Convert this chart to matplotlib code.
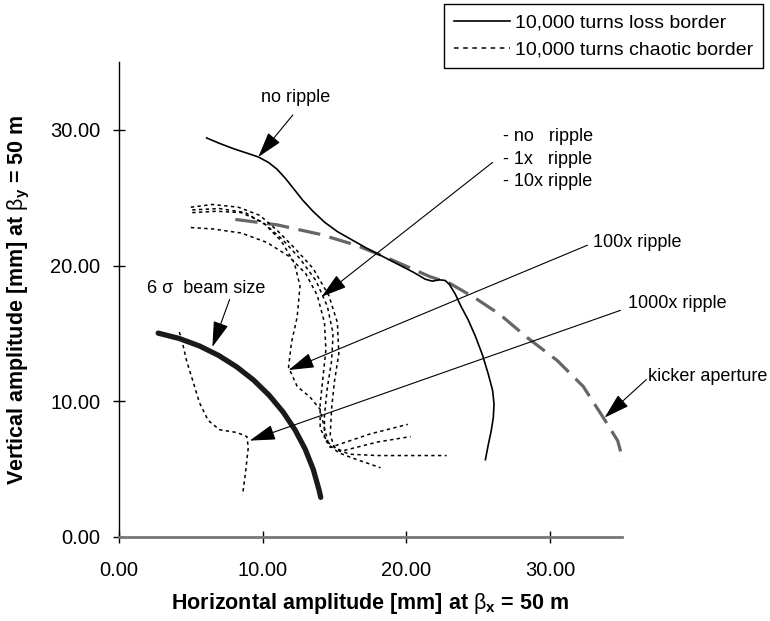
import numpy as np
import matplotlib.pyplot as plt
from matplotlib.lines import Line2D

plt.rcParams['font.family'] = ['Liberation Sans', 'DejaVu Sans']
plt.rcParams['mathtext.fontset'] = 'custom'
plt.rcParams['mathtext.rm'] = 'Liberation Sans'
plt.rcParams['mathtext.it'] = 'Liberation Sans:italic'
plt.rcParams['mathtext.bf'] = 'Liberation Sans:bold'

# 10,000 turns loss border (no ripple)
loss_x = [6.1, 7.0, 8.0, 9.0, 9.7, 10.4, 11.0, 11.6, 12.2, 12.8, 13.5, 14.3, 15.2, 16.2, 17.2, 18.3,
          19.4, 20.5, 21.3, 21.8, 22.3, 22.7, 23.0, 23.4, 23.8, 24.3, 24.8, 25.3, 25.7, 26.0, 26.1,
          26.05, 25.9, 25.7, 25.5]
loss_y = [29.4, 29.0, 28.6, 28.25, 28.0, 27.6, 27.1, 26.4, 25.6, 24.8, 24.0, 23.2, 22.5, 21.9, 21.3, 20.7,
          20.1, 19.5, 19.0, 18.85, 18.95, 18.9, 18.6, 17.9, 17.0, 16.0, 14.8, 13.4, 12.0, 10.8, 9.8,
          8.8, 7.8, 6.8, 5.7]

# chaotic borders
no_x = [5.0, 6.5, 8.3, 9.8, 11.0, 12.3, 13.5, 14.6, 15.2, 15.3, 15.0, 14.8, 14.7, 15.0, 16.0, 18.0, 20.0, 22.8]
no_y = [24.3, 24.5, 24.3, 23.7, 22.6, 21.2, 19.8, 17.8, 15.8, 13.5, 11.5, 9.5, 7.5, 6.6, 6.1, 6.0, 6.0, 6.0]
r1_x = [5.1, 6.8, 8.5, 10.0, 11.4, 12.6, 13.7, 14.5, 14.9, 14.8, 14.5, 14.3, 14.3, 14.7, 17.5, 20.1]
r1_y = [23.9, 24.0, 23.9, 23.2, 21.9, 20.5, 18.9, 17.0, 15.0, 13.0, 11.0, 9.0, 7.3, 6.6, 7.6, 8.3]
r10_x = [5.0, 6.5, 8.5, 10.3, 11.8, 13.0, 13.8, 14.3, 14.4, 14.2, 14.0, 14.0, 14.5, 15.4, 18.0, 20.3]
r10_y = [22.8, 22.7, 22.4, 21.7, 20.7, 19.4, 17.8, 15.8, 13.8, 11.8, 9.8, 8.0, 7.0, 6.3, 7.0, 7.4]
r100_x = [5.1, 7.0, 8.8, 10.2, 11.3, 12.2, 12.6, 12.4, 12.0, 11.8, 12.4, 13.3, 14.0, 14.3, 14.6, 15.3, 16.3, 18.2]
r100_y = [24.1, 24.2, 23.9, 23.0, 21.8, 20.2, 18.5, 16.2, 14.3, 12.5, 11.1, 10.3, 9.4, 8.0, 6.8, 6.2, 5.8, 5.1]
r1000_x = [4.2, 4.4, 4.7, 5.2, 5.6, 6.2, 7.0, 8.2, 8.9, 9.0, 8.8, 8.6]
r1000_y = [15.1, 14.4, 13.0, 11.3, 9.9, 8.6, 7.9, 7.7, 7.4, 6.6, 4.7, 3.1]

# 6 sigma beam size
beam_x = [2.73, 4.18, 5.59, 6.93, 8.20, 9.38, 10.46, 11.42, 12.26, 12.96, 13.52, 13.93, 14.04]
beam_y = [15.02, 14.63, 14.08, 13.38, 12.53, 11.55, 10.43, 9.21, 7.88, 6.47, 4.98, 3.44, 2.92]

# kicker aperture
kick_x = [8.1, 11.0, 14.0, 16.5, 18.6, 21.6, 23.0, 24.8, 26.5, 28.4, 30.5, 32.3, 33.7, 34.7, 35.2]
kick_y = [23.4, 23.0, 22.3, 21.5, 20.6, 19.2, 18.7, 17.6, 16.4, 14.7, 13.0, 11.1, 8.8, 7.1, 5.2]

ticks = [0, 10, 20, 30]
tick_labels = ['0.00', '10.00', '20.00', '30.00']

fig = plt.figure(figsize=(7.7, 6.21), dpi=100)
ax = fig.add_axes([0.1545, 0.1353, 0.6532, 0.7649])

dot = (0, (2.2, 2.2))
ax.plot(kick_x, kick_y, color='#666666', lw=2.3, dashes=(7, 3))
ax.plot(loss_x, loss_y, color='k', lw=1.2)
for xs, ys in [(no_x, no_y), (r1_x, r1_y), (r10_x, r10_y), (r100_x, r100_y), (r1000_x, r1000_y)]:
    ax.plot(xs, ys, color='k', lw=1.1, linestyle=dot)
ax.plot(beam_x, beam_y, color='#1a1a1a', lw=3.8, solid_capstyle='round')

ax.set_xlim(0, 35)
ax.set_ylim(0, 35)
ax.set_xticks(ticks)
ax.set_xticklabels(tick_labels)
ax.set_yticks(ticks)
ax.set_yticklabels(tick_labels)
ax.spines['top'].set_visible(False)
ax.spines['right'].set_visible(False)
ax.spines['bottom'].set_color('#777777')
ax.spines['bottom'].set_linewidth(2)
ax.spines['left'].set_linewidth(1)
ax.tick_params(axis='both', direction='inout', length=9, width=1, labelsize=14.5)
ax.tick_params(axis='x', pad=13)
ax.tick_params(axis='y', pad=9)

ax.set_xlabel(r'Horizontal amplitude [mm] at $\mathrm{\beta}_\mathbf{x}$ = 50 m', fontsize=15.5, fontweight='bold')
ax.set_ylabel(r'Vertical amplitude [mm] at $\mathrm{\beta}_\mathbf{y}$ = 50 m', fontsize=15.5, fontweight='bold')
ax.xaxis.set_label_coords(0.5, -0.114)
ax.yaxis.set_label_coords(-0.172, 0.5)

arrow = dict(arrowstyle='-|>,head_length=0.8,head_width=0.24', color='k', lw=0.8,
             mutation_scale=20, shrinkA=0, shrinkB=0)

ax.text(12.3, 32.4, 'no ripple', fontsize=13, ha='center', va='center')
ax.annotate('', xy=(9.7, 28.0), xytext=(12.1, 31.1), arrowprops=arrow)

ax.text(1.95, 18.3, '6 σ  beam size', fontsize=13, ha='left', va='center')
ax.annotate('', xy=(6.5, 14.0), xytext=(7.7, 17.5), arrowprops=arrow)

ax.text(26.7, 29.5, '- no   ripple', fontsize=13, ha='left', va='center')
ax.text(26.7, 27.8, '- 1x   ripple', fontsize=13, ha='left', va='center')
ax.text(26.7, 26.2, '- 10x ripple', fontsize=13, ha='left', va='center')
ax.annotate('', xy=(14.1, 17.7), xytext=(26.0, 27.6), arrowprops=arrow)

ax.text(33.0, 21.7, '100x ripple', fontsize=13, ha='left', va='center')
ax.annotate('', xy=(11.8, 12.3), xytext=(32.6, 21.5), arrowprops=arrow)

ax.text(35.4, 17.2, '1000x ripple', fontsize=13, ha='left', va='center')
ax.annotate('', xy=(9.1, 7.1), xytext=(34.9, 16.7), arrowprops=arrow)

ax.text(36.8, 11.8, 'kicker aperture', fontsize=13, ha='left', va='center')
ax.annotate('', xy=(33.8, 8.8), xytext=(36.7, 11.6), arrowprops=arrow, annotation_clip=False)

handles = [Line2D([], [], color='k', lw=1.2),
           Line2D([], [], color='k', lw=1.1, linestyle=(0, (3, 3)))]
leg = ax.legend(handles, ['10,000 turns loss border', '10,000 turns chaotic border'],
                loc='upper right', bbox_to_anchor=(763 / 770, 1 - 4 / 621),
                bbox_transform=fig.transFigure, borderaxespad=0, fontsize=14,
                handlelength=2.9, handletextpad=0.25, fancybox=False,
                framealpha=1, edgecolor='k', borderpad=0.5, labelspacing=0.5)
leg.get_frame().set_linewidth(1)

fig.savefig('out.png', dpi=100)
